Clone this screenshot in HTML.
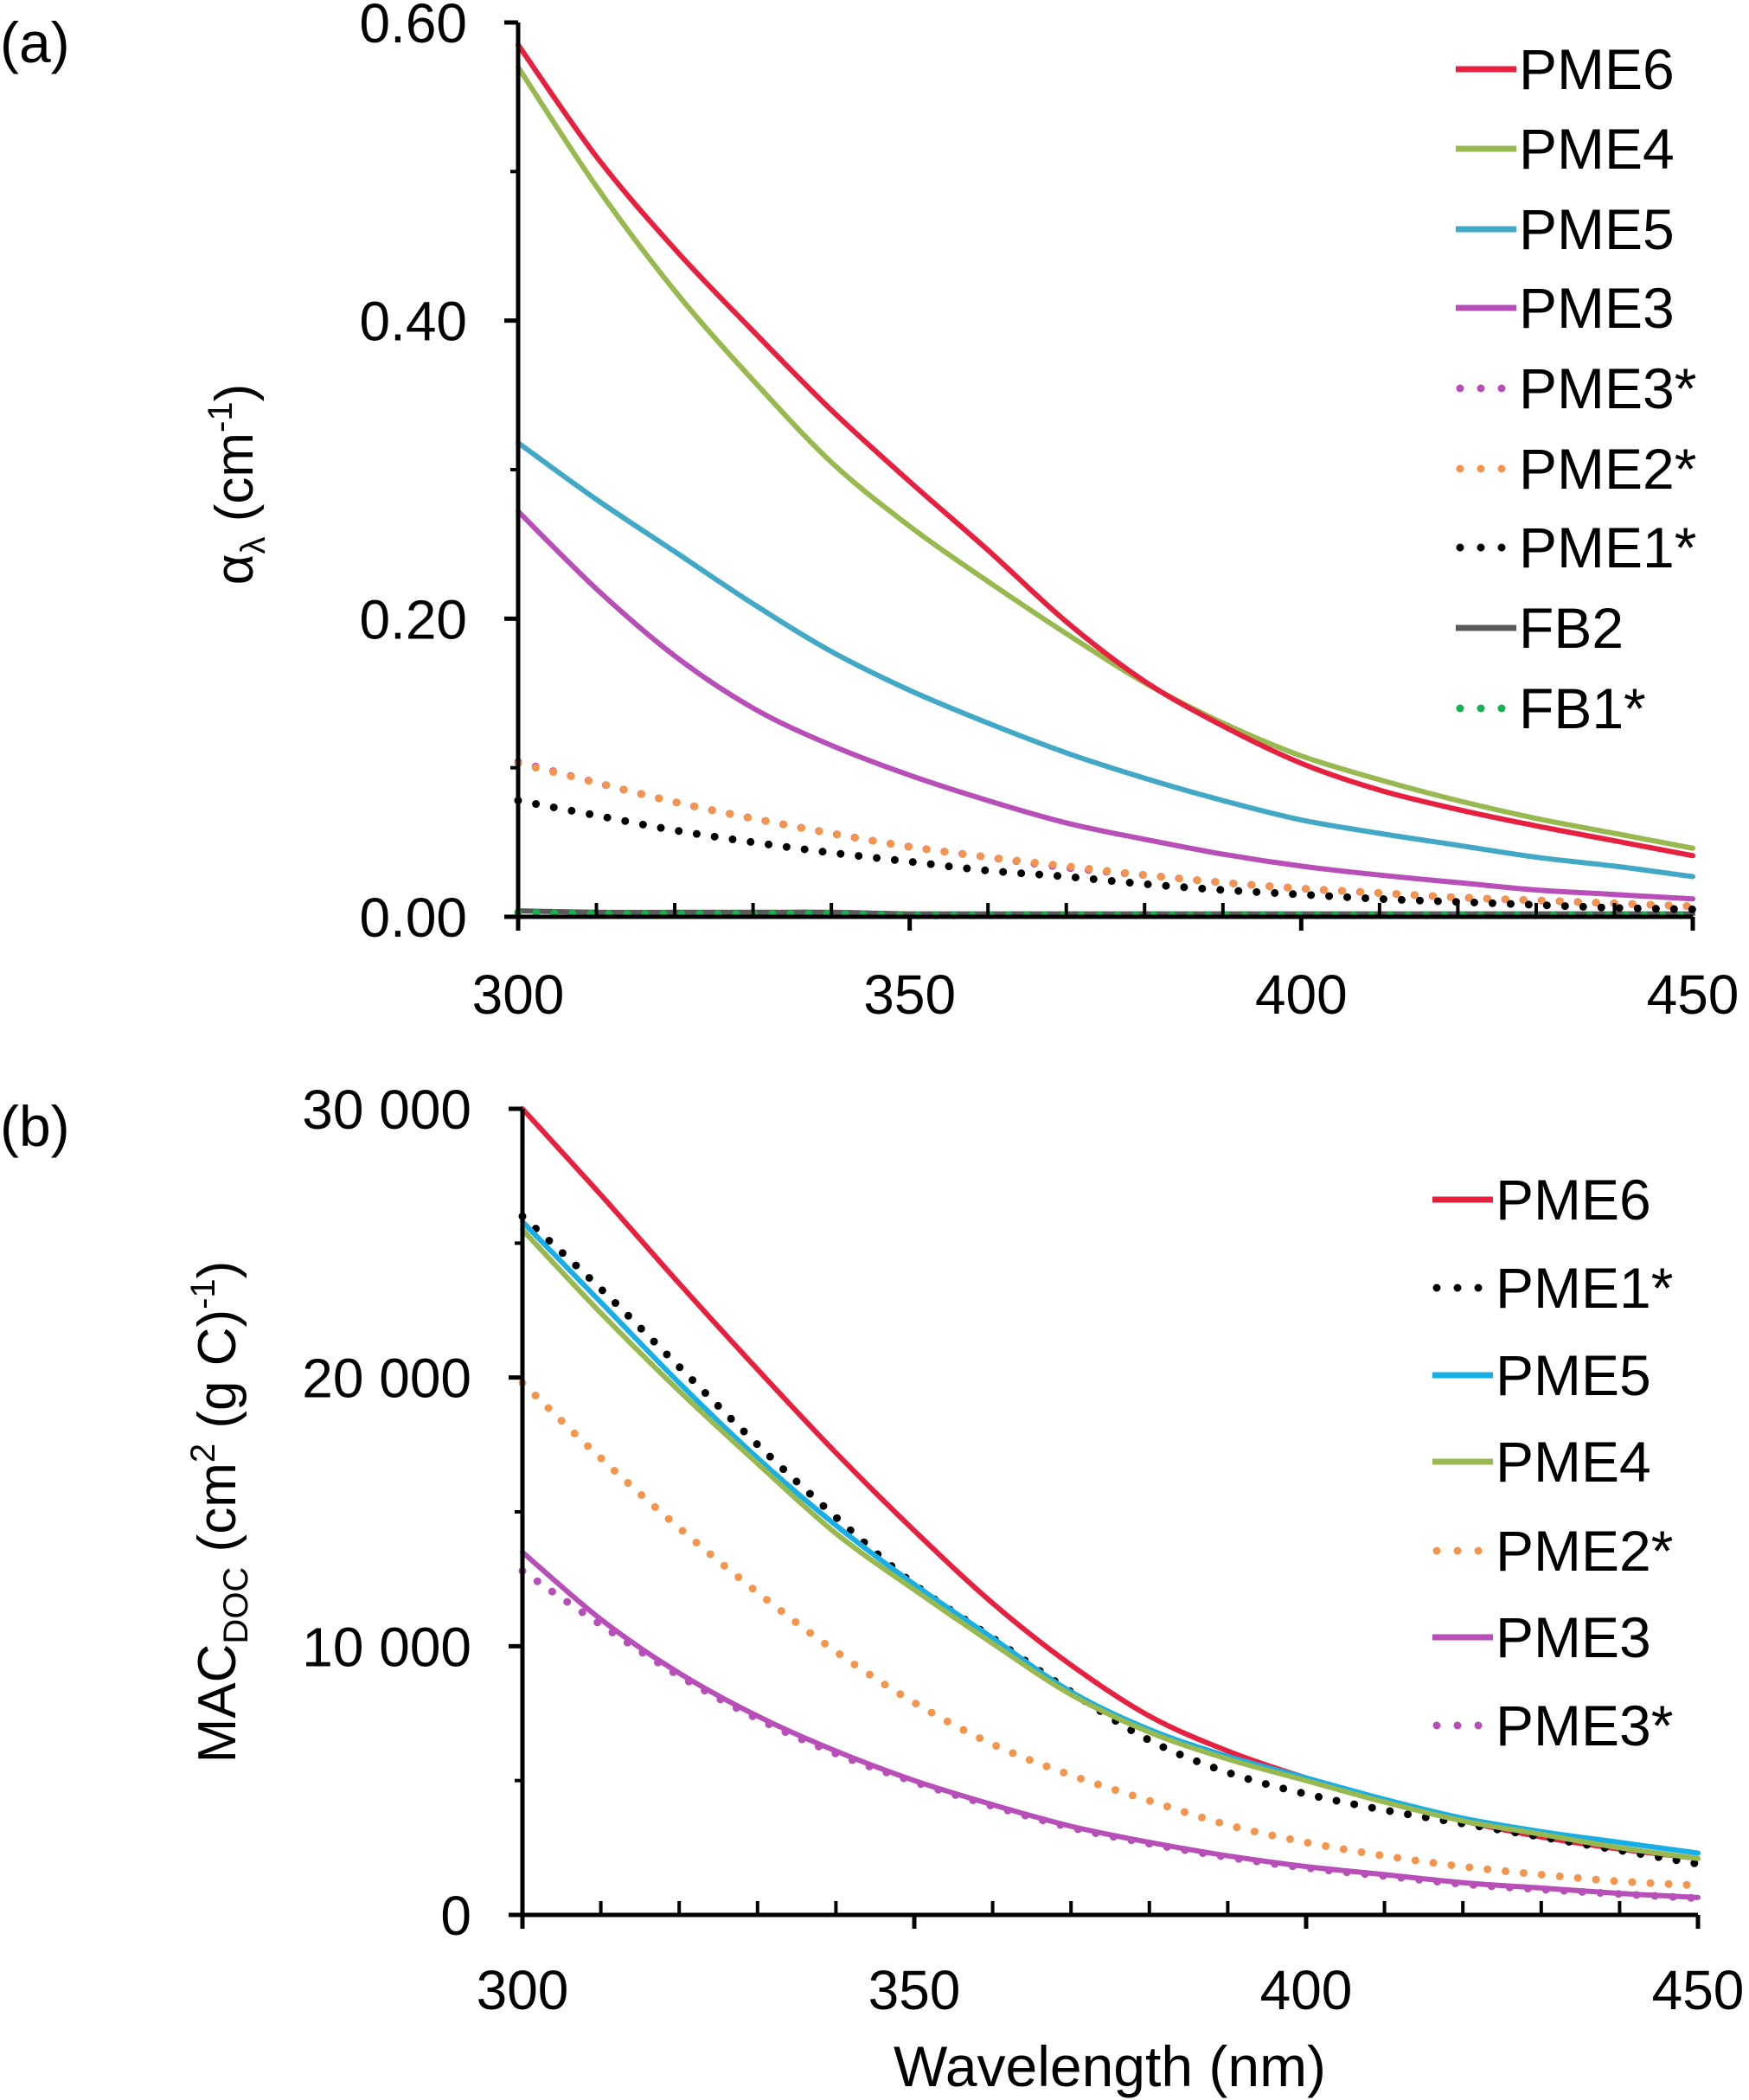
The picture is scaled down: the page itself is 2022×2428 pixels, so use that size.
<!DOCTYPE html>
<html><head><meta charset="utf-8"><style>
html,body{margin:0;padding:0;background:#fff}
svg{display:block;font-family:"Liberation Sans",Arial,sans-serif}
</style></head><body>
<svg id="chart" width="2022" height="2428" viewBox="0 0 2022 2428" xmlns="http://www.w3.org/2000/svg">
<text x="0" y="72" font-size="66">(a)</text>
<text x="0" y="1325" font-size="66">(b)</text>
<g id="pa"></g>
<g id="pb"></g>
<text transform="translate(292,560) rotate(-90)" text-anchor="middle" font-size="62">α<tspan font-size="40" dy="14">λ</tspan><tspan dy="-14"> (cm</tspan><tspan font-size="40" dy="-24">-1</tspan><tspan dy="24">)</tspan></text>
<text transform="translate(272,1748) rotate(-90)" text-anchor="middle" font-size="62">MAC<tspan font-size="40" dy="14">DOC</tspan><tspan dy="-14"> (cm</tspan><tspan font-size="40" dy="-24">2</tspan><tspan dy="24"> (g C)</tspan><tspan font-size="40" dy="-24">-1</tspan><tspan dy="24">)</tspan></text>
<text x="1283" y="2412" text-anchor="middle" font-size="66">Wavelength (nm)</text>
</svg>
<script>
const wl=[300,310,320,330,340,350,360,370,380,390,400,410,420,430,440,450];
const aPME6=[.585,.51,.448,.393,.34,.292,.246,.198,.158,.128,.103,.085,.072,.061,.051,.041];
const aPME4=[.57,.49,.42,.36,.305,.262,.225,.19,.157,.13,.108,.092,.078,.066,.056,.046];
const aPME5=[.318,.28,.245,.21,.178,.152,.13,.11,.093,.078,.065,.056,.048,.04,.034,.027];
const aPME3=[.272,.22,.175,.14,.115,.095,.078,.063,.052,.042,.034,.028,.023,.018,.015,.012];
const aPME3s=[.104,.09,.077,.066,.056,.047,.04,.033,.028,.023,.019,.016,.013,.011,.009,.007];
const aPME2s=[.103,.09,.077,.066,.056,.047,.04,.034,.028,.023,.019,.016,.013,.011,.009,.007];
const aPME1s=[.078,.068,.058,.05,.043,.037,.031,.027,.022,.018,.015,.012,.01,.008,.006,.005];
const aFB2=[.004,.003,.003,.003,.003,.002,.002,.002,.002,.002,.002,.002,.002,.002,.002,.002];
const aFB1s=[.003,.002,.002,.002,.002,.001,.001,.001,.001,.001,.001,.001,.001,.001,.001,.001];
const bPME6=[30000,26800,23500,20300,17200,14300,11600,9300,7400,6100,5100,4250,3500,2900,2450,2100];
const bPME1s=[26000,23300,20400,17500,14800,12300,10300,8300,6500,5300,4500,3900,3400,2900,2400,1900];
const bPME5=[25800,22800,19800,17000,14500,12300,10300,8300,6900,5900,5100,4300,3600,3100,2700,2300];
const bPME4=[25500,22400,19500,16800,14200,12100,10100,8200,6800,5800,5000,4200,3500,3000,2500,2100];
const bPME2s=[19800,17000,14400,12000,9800,7900,6350,5200,4250,3350,2700,2200,1800,1500,1250,1100];
const bPME3=[13500,11000,9000,7400,6100,5000,4100,3300,2700,2200,1800,1500,1200,1000,800,650];
const bPME3s=[12800,10800,8900,7300,6000,4950,4050,3250,2650,2150,1750,1450,1150,950,780,620];
const aYTicks=["0.00","0.20","0.40","0.60"];
const bYTicks=["0","10 000","20 000","30 000"];
const xTicks=["300","350","400","450"];
const NS="http://www.w3.org/2000/svg";
function mk(p,t,at){const e=document.createElementNS(NS,t);for(const k in at)e.setAttribute(k,at[k]);p.appendChild(e);return e;}
function spline(pts){
  let d='M'+pts[0][0].toFixed(1)+','+pts[0][1].toFixed(1);
  for(let i=0;i<pts.length-1;i++){
    const p0=pts[Math.max(0,i-1)],p1=pts[i],p2=pts[i+1],p3=pts[Math.min(pts.length-1,i+2)];
    const c1=[p1[0]+(p2[0]-p0[0])/6,p1[1]+(p2[1]-p0[1])/6],c2=[p2[0]-(p3[0]-p1[0])/6,p2[1]-(p3[1]-p1[1])/6];
    d+='C'+c1.map(v=>v.toFixed(1))+' '+c2.map(v=>v.toFixed(1))+' '+p2.map(v=>v.toFixed(1));
  }
  return d;
}
function panel(g,x0,x1,y0,yT,ymax,yticks,series,legend,lx,ly,tickLabX,xLabY){
  const sx=v=>x0+(v-300)/150*(x1-x0), sy=v=>y0-(v/ymax)*(y0-yT);
  series.forEach(s=>{
    const d=spline(wl.map((w,i)=>[sx(w),sy(s.v[i])]));
    const p=mk(g,'path',{d:d,fill:'none',stroke:s.c,'stroke-width':s.dot?9:6,'stroke-linecap':'round','stroke-linejoin':'round'});
    if(s.dot)p.setAttribute('stroke-dasharray','0 21');
    
    
  });
  const ax=mk(g,'path',{d:`M${x0},${yT}V${y0}H${x1}`,fill:'none',stroke:'#000','stroke-width':5});
  
  
  for(let i=0;i<yticks.length;i++){
    const v=ymax*i/(yticks.length-1);
    mk(g,'line',{x1:x0-16,x2:x0,y1:sy(v),y2:sy(v),stroke:'#000','stroke-width':5});
    if(i>0){const m=v-ymax/(yticks.length-1)/2;mk(g,'line',{x1:x0-9,x2:x0,y1:sy(m),y2:sy(m),stroke:'#000','stroke-width':4});}
    const t=mk(g,'text',{x:tickLabX,y:sy(v)+23,'text-anchor':'end','font-size':64});t.textContent=yticks[i];
    
    
  }
  for(let w=300;w<=450;w+=10){
    if((w-300)%50===0){mk(g,'line',{x1:sx(w),x2:sx(w),y1:y0,y2:y0+16,stroke:'#000','stroke-width':5});}
    else mk(g,'line',{x1:sx(w),x2:sx(w),y1:y0-16,y2:y0,stroke:'#000','stroke-width':4});
  }
  xTicks.forEach(l=>{const t=mk(g,'text',{x:sx(+l),y:xLabY,'text-anchor':'middle','font-size':64});t.textContent=l;
    
    });
  legend.forEach((s,i)=>{
    const y=ly[i];
    const gg=mk(g,'g',{});
    
    
    const l=mk(gg,'line',{x1:lx,x2:lx+70,y1:y,y2:y,stroke:s.c,'stroke-width':s.dot?9:7,'stroke-linecap':s.dot?'round':'butt'});
    if(s.dot){l.setAttribute('x1',lx+5);l.setAttribute('stroke-dasharray','0 24');}
    const t=mk(gg,'text',{x:lx+73,y:y+23,'font-size':66});t.textContent=s.n;
  });
}
const C={r:'#e8203f',g:'#97b94f',b:'#41a9c6',m:'#b84fb8',o:'#f4954b',k:'#000',gr:'#595959',gn:'#16b24f',cy:'#18aee6'};
const A=[{n:'PME6',c:C.r,v:aPME6},{n:'PME4',c:C.g,v:aPME4},{n:'PME5',c:C.b,v:aPME5},{n:'PME3',c:C.m,v:aPME3},
{n:'PME3*',c:C.m,v:aPME3s,dot:1},{n:'PME2*',c:C.o,v:aPME2s,dot:1},{n:'PME1*',c:C.k,v:aPME1s,dot:1},{n:'FB2',c:C.gr,v:aFB2},{n:'FB1*',c:C.gn,v:aFB1s,dot:1}];
panel(document.getElementById('pa'),599,1957,1060,26,0.6,aYTicks,
 [A[7],A[8],A[3],A[2],A[1],A[0],A[4],A[5],A[6]],A,1683,[80,172,265,356,449,542,633,726,819],540,1172);
const B=[{n:'PME6',c:C.r,v:bPME6},{n:'PME1*',c:C.k,v:bPME1s,dot:1},{n:'PME5',c:C.cy,v:bPME5},{n:'PME4',c:C.g,v:bPME4},
{n:'PME2*',c:C.o,v:bPME2s,dot:1},{n:'PME3',c:C.m,v:bPME3},{n:'PME3*',c:C.m,v:bPME3s,dot:1}];
panel(document.getElementById('pb'),604,1963,2214,1282,30000,bYTicks,
 [B[6],B[5],B[4],B[0],B[1],B[2],B[3]],B,1656,[1387,1489,1590,1690,1793,1893,1995],545,2323);
</script>
</body></html>
